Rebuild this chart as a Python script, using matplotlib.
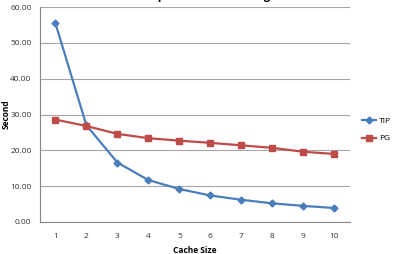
import matplotlib
matplotlib.use("Agg")
import matplotlib.pyplot as plt

# Datos
cache_size = [1, 2, 3, 4, 5, 6, 7, 8, 9, 10]
tip = [55.5, 27.0, 16.6, 11.7, 9.2, 7.4, 6.2, 5.2, 4.5, 3.9]
pg = [28.6, 26.8, 24.6, 23.4, 22.7, 22.1, 21.4, 20.7, 19.6, 19.0]
y_ticks = [0, 10, 20, 30, 40, 50, 60]

plt.rcParams["font.family"] = ["Open Sans", "DejaVu Sans"]

fig = plt.figure(figsize=(3.95, 2.54), dpi=100)
ax = fig.add_axes([0.101, 0.126, 0.785, 0.846])

ax.plot(cache_size, tip, color="#4A7EBB", marker="D", markersize=3.5, linewidth=1.6, label="TIP")
ax.plot(cache_size, pg, color="#BE4B48", marker="s", markersize=4.5, linewidth=1.6, label="PG")

ax.set_xlim(0.5, 10.5)
ax.set_ylim(0, 60)
ax.set_yticks(y_ticks)
ax.set_yticklabels([f"{v:.2f}" for v in y_ticks])
ax.set_xticks(cache_size)
ax.grid(axis="y", color="#A6A6A6", linewidth=0.8)
ax.set_axisbelow(True)
for s in ["top", "right"]:
    ax.spines[s].set_visible(False)
ax.spines["left"].set_color("#888888")
ax.spines["bottom"].set_color("#888888")
ax.tick_params(axis="both", labelsize=6, length=0, colors="#333333", pad=6)
ax.tick_params(axis="x", pad=8)

ax.set_xlabel("Cache Size", fontsize=6, fontweight="bold", labelpad=4)
ax.set_ylabel("Second", fontsize=6, fontweight="bold", labelpad=1)
ax.yaxis.set_label_coords(-0.094, 0.5)

# titulo recortado en la parte superior
fig.text(0.51, 1.003, "Computation Time Using", ha="center", va="baseline", fontsize=8, fontweight="bold")

ax.legend(loc="center left", bbox_to_anchor=(1.02, 0.43), frameon=False, fontsize=6,
          handlelength=1.7, handletextpad=0.3, labelspacing=1.2, borderaxespad=0.3)

plt.savefig("out.png", dpi=100)
